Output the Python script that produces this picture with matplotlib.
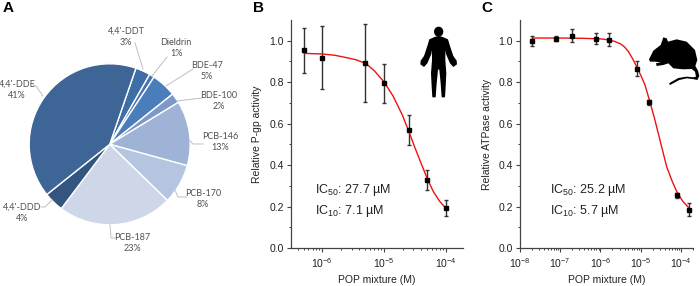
import numpy as np
import matplotlib
matplotlib.use('Agg')
import matplotlib.pyplot as plt
from matplotlib.patches import Polygon

plt.rcParams['font.family'] = ['Liberation Sans', 'DejaVu Sans']
plt.rcParams['mathtext.default'] = 'regular'

# Panel A
pie_names = ["4,4'-DDT", 'Dieldrin', 'BDE-47', 'BDE-100', 'PCB-146', 'PCB-170', 'PCB-187', "4,4'-DDD", "4,4'-DDE"]
pie_values = [3, 1, 5, 2, 13, 8, 23, 4, 41]
pie_colors = ['#3F6DA6', '#4373B0', '#4A7EBB', '#7F99C6', '#9FB3D6', '#B5C5E0', '#CDD7E8', '#34557F', '#3D6697']

# Panel B
b_conc = [5e-7, 1e-6, 5e-6, 1e-5, 2.5e-5, 5e-5, 1e-4]
b_mean = [0.955, 0.918, 0.893, 0.797, 0.570, 0.330, 0.195]
b_low = [0.846, 0.765, 0.706, 0.698, 0.495, 0.281, 0.156]
b_high = [1.061, 1.070, 1.080, 0.890, 0.641, 0.375, 0.231]
b_fit_logx = [-6.29, -6.0, -5.8, -5.6, -5.45, -5.29, -5.15, -5.0, -4.85, -4.7, -4.6, -4.5, -4.4, -4.3, -4.2, -4.1, -4.0]
b_fit_y = [0.939, 0.936, 0.930, 0.918, 0.908, 0.890, 0.853, 0.802, 0.732, 0.640, 0.565, 0.485, 0.410, 0.335, 0.272, 0.226, 0.193]

# Panel C
c_conc = [2e-8, 8e-8, 2e-7, 8e-7, 1.6e-6, 8e-6, 1.6e-5, 8e-5, 1.6e-4]
c_mean = [1.000, 1.010, 1.025, 1.010, 1.005, 0.865, 0.702, 0.255, 0.185]
c_err = [0.025, 0.012, 0.030, 0.025, 0.030, 0.035, 0.012, 0.012, 0.030]
c_fit_logx = [-7.69, -7.0, -6.5, -6.0, -5.8, -5.65, -5.5, -5.4, -5.3, -5.18, -5.08, -4.98, -4.89, -4.77, -4.66, -4.56,
              -4.45, -4.35, -4.22, -4.10, -3.95, -3.77]
c_fit_y = [1.013, 1.013, 1.012, 1.009, 1.004, 0.997, 0.985, 0.970, 0.947, 0.907, 0.867, 0.827, 0.786, 0.706, 0.630, 0.553,
           0.468, 0.392, 0.325, 0.272, 0.225, 0.188]

W, H = 700, 286
fig = plt.figure(figsize=(7, 2.86), dpi=100)


def px_axes(left, right, top, bottom):
    return fig.add_axes([left / W, 1 - bottom / H, (right - left) / W, (bottom - top) / H])


# pie
ax = px_axes(29.2, 190.2, 63.8, 224.8)
ax.pie(pie_values, colors=pie_colors, startangle=71, counterclock=False, radius=1,
       wedgeprops=dict(edgecolor='white', linewidth=1))
ax.set_xlim(-1, 1)
ax.set_ylim(-1, 1)


def dose_panel(ax, conc, mean, low, high, fit_x, fit_y, xlim, ylabel):
    ax.plot(10.0 ** np.array(fit_x), fit_y, color='#F01010', lw=1, zorder=3)
    mean = np.array(mean)
    ax.errorbar(conc, mean, yerr=[mean - np.array(low), np.array(high) - mean], fmt='none',
                ecolor='#333333', elinewidth=1, capsize=1.7, capthick=1, zorder=2)
    ax.plot(conc, mean, 's', color='black', ms=3, zorder=4)
    ax.set_xscale('log')
    ax.set_xlim(10.0 ** xlim[0], 10.0 ** xlim[1])
    ax.set_ylim(0, 1.1)
    ax.set_yticks(np.arange(0, 1.01, 0.2))
    ax.set_yticks(np.arange(0.1, 1.1, 0.2), minor=True)
    ax.xaxis.set_major_locator(matplotlib.ticker.LogLocator(base=10, numticks=12))
    ax.xaxis.set_minor_locator(matplotlib.ticker.LogLocator(base=10, subs=np.arange(2, 10), numticks=12))
    ax.xaxis.set_minor_formatter(matplotlib.ticker.NullFormatter())
    ax.spines[['top', 'right']].set_visible(False)
    ax.spines[['left', 'bottom']].set_color('#444444')
    ax.spines[['left', 'bottom']].set_linewidth(0.9)
    ax.tick_params(which='major', length=3, width=0.8, color='#444444', labelsize=7.5, labelcolor='#222222', pad=2)
    ax.tick_params(axis='x', which='major', pad=3)
    ax.tick_params(which='minor', length=1.6, width=0.7, color='#444444')
    ax.set_xlabel('POP mixture (M)', fontsize=7.5, color='#222222', labelpad=3.5)
    ax.set_ylabel(ylabel, fontsize=7.5, color='#222222', labelpad=5)


ax_b = px_axes(290.7, 463, 20, 248)
dose_panel(ax_b, b_conc, b_mean, b_low, b_high, b_fit_logx, b_fit_y, (-6.51, -3.72), 'Relative P-gp activity')

ax_c = px_axes(520, 693, 20, 248)
c_mean_arr = np.array(c_mean)
c_err_arr = np.array(c_err)
dose_panel(ax_c, c_conc, c_mean, c_mean_arr - c_err_arr, c_mean_arr + c_err_arr, c_fit_logx, c_fit_y,
           (-8, -3.696), 'Relative ATPase activity')
ax_c.set_xticks([1e-8, 1e-7, 1e-6, 1e-5, 1e-4])

# overlay in pixel coords for labels and icons
ov = fig.add_axes([0, 0, 1, 1], zorder=5)
ov.set_xlim(0, W)
ov.set_ylim(H, 0)
ov.axis('off')

for s, x in zip('ABC', [8, 259, 487]):
    ov.text(x, 8, s, fontsize=11, fontweight='bold', ha='center', va='center', color='black')

for s, x, y in [('IC$_{50}$: 27.7 µM', 315, 193), ('IC$_{10}$: 7.1 µM', 315, 214),
                ('IC$_{50}$: 25.2 µM', 550, 193), ('IC$_{10}$: 5.7 µM', 550, 214)]:
    ov.text(x, y, s, fontsize=9, ha='left', va='baseline', color='#222222')

# pie labels, zoomed px / 3
label_pos = [(126, 37), (176, 48), (207, 71), (219, 101), (220, 142), (203, 199), (132, 243), (22, 213), (17, 90)]
leaders = [[(135, 43), (143, 69)], [(167, 57), (152, 76)], [(193, 69), (166, 86)], [(202, 98), (177, 101)],
           [(203, 144), (193, 144), (189, 140)], [(187, 197), (178, 197), (175, 190)],
           [(115, 238), (111, 238), (110, 225)], [(41, 207), (45, 207), (52, 200)], [(33, 85), (36, 86), (43, 96)]]
for name, val, pos, line in zip(pie_names, pie_values, label_pos, leaders):
    ov.text(pos[0], pos[1], '%s\n%d%%' % (name, val), fontsize=6.5, family='Lato', color='#505050',
            ha='center', va='center', linespacing=1.3)
    ov.plot([p[0] for p in line], [p[1] for p in line], color='#BFBFBF', lw=0.7)

# human icon, right half then mirrored (zoom coords)
body_half = [(86, 48), (96, 50), (114, 58), (120, 78), (130, 108), (140, 122), (141, 133), (130, 141), (120, 130),
             (108, 102), (106, 90), (106, 120), (109, 160), (107, 200), (105, 232), (95, 232), (92, 190), (88, 150), (86, 148)]
body = body_half + [(172 - x, y) for x, y in reversed(body_half)]
ov.add_patch(Polygon([(410 + x / 3, 20 + y / 3) for x, y in body], color='black', lw=0))
t = np.linspace(0, 2 * np.pi, 30)
ov.fill(410 + (86 + 14 * np.cos(t)) / 3, 20 + (35 + 15 * np.sin(t)) / 3, color='black', lw=0)

# mouse icon (zoom coords)
mouse = [(27, 88), (40, 62), (62, 45), (70, 22), (80, 25), (84, 35), (110, 28), (140, 35), (165, 60), (172, 90),
         (166, 108), (174, 122), (178, 138), (172, 150), (158, 147), (140, 145), (118, 150), (90, 165), (87, 160),
         (115, 144), (140, 140), (160, 142), (168, 140), (165, 125), (155, 117), (130, 118), (100, 115), (85, 100),
         (70, 105), (50, 108), (48, 100), (62, 97), (45, 95), (30, 95)]
ov.add_patch(Polygon([(640 + x / 3, 30 + y / 3) for x, y in mouse], color='black', lw=0))

fig.savefig('out.png', dpi=100)
